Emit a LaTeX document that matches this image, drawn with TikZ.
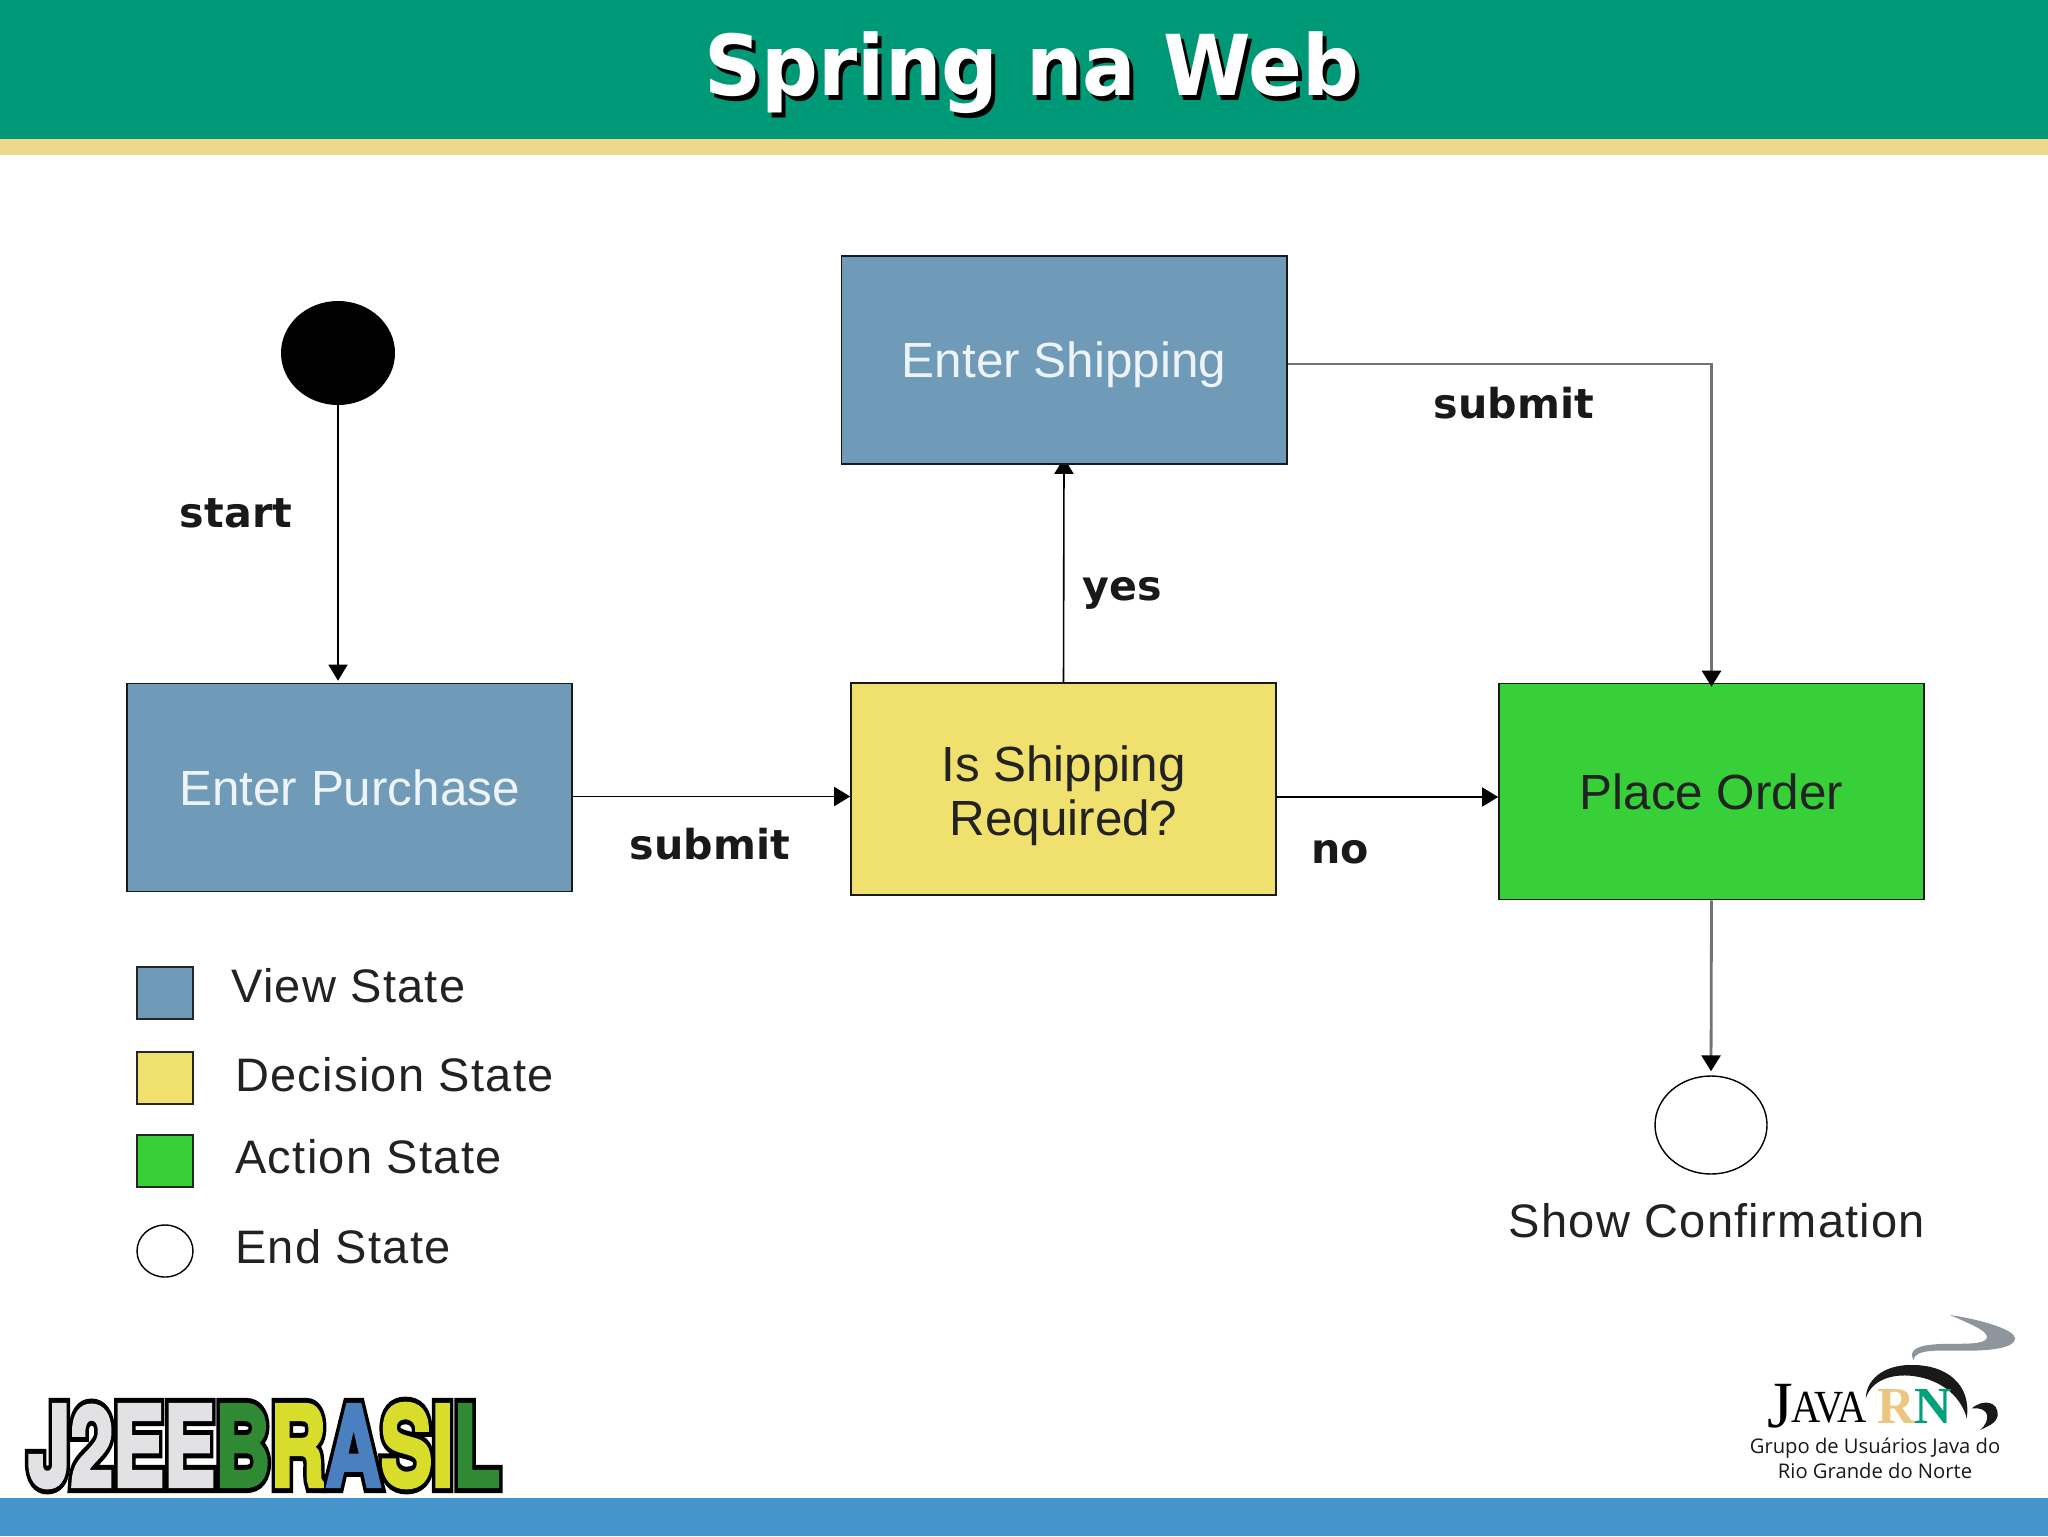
\documentclass[tikz,border=0pt]{standalone}
\usepackage{fontspec}
\usepackage{graphicx}
\usetikzlibrary{shapes.geometric,arrows.meta}
\setmainfont{Liberation Sans}
\newfontfamily\titlefont{DejaVu Sans}
\newfontfamily\labelfont{DejaVu Sans}
\newfontfamily\logoserif{Liberation Serif}
\newfontfamily\logosans{Open Sans}
\newfontfamily\legfont[LetterSpace=2.7]{Liberation Sans}
\newfontfamily\jfront[Kerning=Off,FakeBold=4]{TeX Gyre Heros}
\newfontfamily\jback[Kerning=Off,FakeBold=13]{TeX Gyre Heros}
\definecolor{band}{HTML}{009977}
\definecolor{tan}{HTML}{EED88A}
\definecolor{footblue}{HTML}{4595CC}
\definecolor{viewc}{HTML}{6F9AB8}
\definecolor{decc}{HTML}{F0E06E}
\definecolor{actc}{HTML}{38D038}
\definecolor{boxtext}{HTML}{EEF3F7}
\definecolor{bodytext}{HTML}{222222}
\definecolor{smoke}{HTML}{8F959C}
\definecolor{rntan}{HTML}{EBC67E}
\definecolor{rngreen}{HTML}{00A078}
\definecolor{jgray}{HTML}{E2E2E4}
\definecolor{jgreen}{HTML}{2F8A33}
\definecolor{jyellow}{HTML}{D8DC2A}
\definecolor{jblue}{HTML}{4A80C0}
\newcommand{\jlet}[2]{\textcolor{#1}{#2}}
\newcommand{\jword}{\jlet{jgray}{J}\jlet{jgray}{2}\jlet{jgray}{E}\jlet{jgray}{E}\jlet{jgreen}{B}\jlet{jyellow}{R}\jlet{jblue}{A}\jlet{jyellow}{S}\jlet{jyellow}{I}\jlet{jgreen}{L}}
\pgfdeclarelayer{pagebase}
\pgfdeclarelayer{under}
\pgfsetlayers{pagebase,under,main}
\begin{document}
\begin{tikzpicture}[x=0.5pt,y=-0.5pt,
  statebox/.style={rectangle,draw=black!90,line width=0.8pt,inner sep=0pt,align=center,font=\fontsize{24.7}{27}\selectfont},
  viewbox/.style={statebox,fill=viewc,text=boxtext,minimum width=222.7pt,minimum height=104pt},
  decbox/.style={statebox,fill=decc,text=bodytext,minimum width=212.5pt,minimum height=106pt},
  actbox/.style={statebox,fill=actc,text=bodytext,minimum width=212.5pt,minimum height=108pt},
  swatch/.style={rectangle,draw=black!85,line width=0.6pt,minimum width=28pt,minimum height=26pt,inner sep=0pt},
  endc/.style={ellipse,draw=black,line width=0.7pt,fill=white,inner sep=0pt},
  tlabel/.style={font=\labelfont\bfseries\fontsize{20.6}{26}\selectfont,text=black!90,inner sep=0pt},
  legtext/.style={font=\legfont\fontsize{23.5}{27}\selectfont,text=bodytext,inner sep=0pt,anchor=west},
  conn/.style={-{Triangle[length=8pt,width=9.5pt]},line width=0.8pt,black},
  gconn/.style={conn,draw=black!55,line width=1.4pt,-{Triangle[length=8pt,width=9.5pt,black]}},
  ]
\useasboundingbox (0,0) rectangle (2048,1536);
\begin{pgfonlayer}{pagebase}
\fill[white] (0,0) rectangle (2048,1536);
\fill[band] (0,0) rectangle (2048,139);
\fill[tan] (0,139) rectangle (2048,155);
\fill[footblue] (0,1498) rectangle (2048,1536);
\end{pgfonlayer}

\node[anchor=base,inner sep=0pt,text=black,font=\titlefont\bfseries\fontsize{42}{46}\selectfont] (tsh) at (1036,100) {\scalebox{0.945}[1]{Spring na Web}};
\node[anchor=base,inner sep=0pt,text=white,font=\titlefont\bfseries\fontsize{42}{46}\selectfont] (tt) at (1032,96) {\scalebox{0.945}[1]{Spring na Web}};

\node[ellipse,fill=black,inner sep=0pt,minimum width=57pt,minimum height=52pt] (start) at (338,353) {};
\node[viewbox] (ep) at (349.5,787.5) {Enter Purchase};
\node[viewbox] (es) at (1064,360) {\raisebox{-2.6pt}[\height][\depth]{Enter Shipping}};
\node[decbox] (is) at (1063.5,789) {\raisebox{-4.5pt}[\height][\depth]{\begin{tabular}{@{}c@{}}Is Shipping\\Required?\end{tabular}}};
\node[actbox] (po) at (1711.5,791.5) {Place Order};
\node[endc,minimum width=56pt,minimum height=49pt] (end) at (1711,1125) {};
\node[font=\legfont\fontsize{23.5}{27}\selectfont,text=bodytext,inner sep=0pt] (sc) at (1717,1221) {Show Confirmation};

\draw[conn] (start.south) -- ([yshift=1pt]start.south |- ep.north);
\draw[conn] ([yshift=-4.5pt]ep.east) -- ([yshift=-4.5pt]ep.east -| is.west);
\begin{pgfonlayer}{under}
\draw[conn] (is.north) -- ([yshift=3.5pt]es.south);
\end{pgfonlayer}
\draw[gconn] ([yshift=-2pt]es.east) -| ([yshift=-2pt]po.north);
\draw[conn] ([yshift=-4pt]is.east) -- ([yshift=-4pt]is.east -| po.west);
\draw[gconn] (po.south) -- ([yshift=2pt]end.north);

\node[tlabel] (l1) at (236,513) {start};
\node[tlabel] (l2) at (1514,403) {submit};
\node[tlabel] (l3) at (1122,593) {yes};
\node[tlabel] (l4) at (710,844) {submit};
\node[tlabel] (l5) at (1340,852) {no};

\node[swatch,fill=viewc] (s1) at (165,993) {};
\node[swatch,fill=decc] (s2) at (165,1078) {};
\node[swatch,fill=actc] (s3) at (165,1161) {};
\node[endc,minimum width=28pt,minimum height=26pt] (s4) at (165,1251) {};
\node[legtext] (t1) at (231,986) {View State};
\node[legtext] (t2) at (235,1075) {Decision State};
\node[legtext] (t3) at (235,1157) {Action State};
\node[legtext] (t4) at (235,1247) {End State};

% J2EE logo
\node[inner sep=0pt] (jb) at (264,1445.5) {\renewcommand{\jlet}[2]{\textcolor{black}{#2}}\resizebox{236pt}{41pt}{\jback\bfseries\fontsize{40}{44}\selectfont\jword}};
\node[inner sep=0pt] (jf) at (264,1445.5) {\resizebox{236pt}{41pt}{\jfront\bfseries\fontsize{40}{44}\selectfont\jword}};

% Java RN logo
\begin{scope}[shift={(1700,1290)},x=0.1667pt,y=-0.1667pt]
\fill[smoke] (640,210) .. controls (625,180) and (650,165) .. (720,162) .. controls (790,160) and (850,165) .. (860,145) .. controls (865,125) and (830,110) .. (750,75) .. controls (850,90) and (945,120) .. (945,145) .. controls (945,172) and (880,182) .. (800,182) .. controls (720,182) and (645,175) .. (640,210) -- cycle;
\fill[black!90] (497,325) .. controls (500,255) and (570,222) .. (640,225) .. controls (735,225) and (815,280) .. (800,385) .. controls (785,325) and (730,270) .. (640,258) .. controls (575,250) and (515,270) .. (497,325) -- cycle;
\fill[black!90] (815,355) .. controls (850,325) and (895,335) .. (893,375) .. controls (890,400) and (860,410) .. (840,420) .. controls (870,395) and (875,350) .. (815,355) -- cycle;
\end{scope}
\node[anchor=base west,inner sep=0pt,text=black,font=\logoserif\selectfont] (jv) at (1767,1422) {\fontsize{33}{34}\selectfont\raisebox{-2.5pt}{J}\kern-1pt\fontsize{23}{24}\selectfont\scalebox{0.88}[1]{A\kern-3.5pt V\kern-3.5pt A}};
\node[anchor=base west,inner sep=0pt,font=\logoserif\bfseries\fontsize{26}{26}\selectfont] (rn) at (1877,1423) {\textcolor{rntan}{R}\textcolor{rngreen}{N}};
\node[anchor=base,inner sep=0pt,align=center,text=black!90,font=\logosans\fontsize{10.1}{12.4}\selectfont] (gr) at (1875,1478) {Grupo de Usuários Java do\\Rio Grande do Norte};
\end{tikzpicture}
\end{document}
